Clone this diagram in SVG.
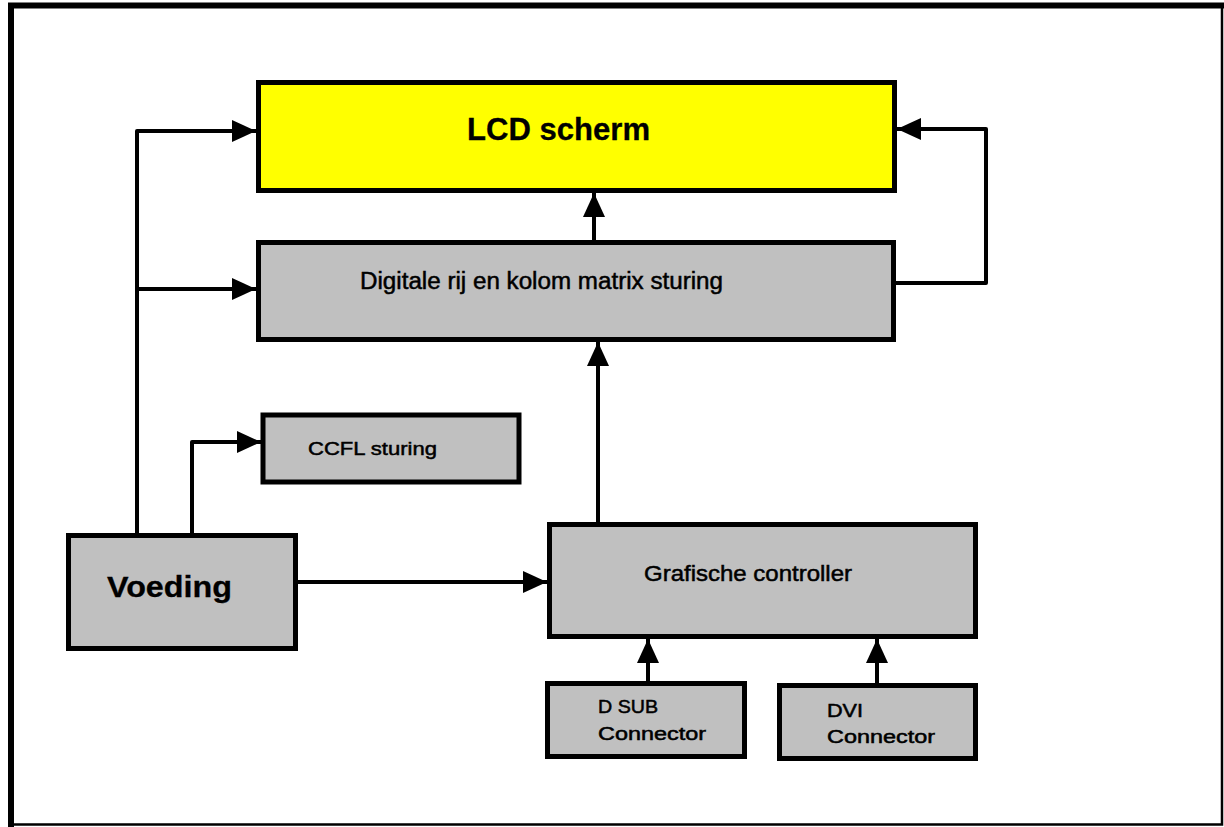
<svg xmlns="http://www.w3.org/2000/svg" width="1224" height="827" viewBox="0 0 1224 827">
<style>
.box{stroke:#000;stroke-width:5;fill:#c0c0c0}
.yel{fill:#ffff00}
.t{font-family:"Liberation Sans",Arial,sans-serif;fill:#000;stroke:#000;stroke-width:0.5}
.b{font-weight:bold;stroke-width:0.3}
.c{fill:none;stroke:#000;stroke-width:4;stroke-linejoin:round}
</style>
<defs>
<marker id="ah" viewBox="0 0 24 22" refX="24" refY="11" markerWidth="24" markerHeight="22" markerUnits="userSpaceOnUse" orient="auto">
<path d="M0,0 L24,11 L0,22 Z" fill="#000"/>
</marker>
</defs>
<rect width="1224" height="827" fill="#fff"/>
<g id="frame">
<path d="M11,827 V5.5 H1224" fill="none" stroke="#000" stroke-width="6"/>
<path d="M11,824.5 H1222 V5" fill="none" stroke="#000" stroke-width="2.5"/>
</g>
<g id="connectors">
<path class="c" d="M137,533 V131 H256" marker-end="url(#ah)"/>
<path class="c" d="M137,289 H256" marker-end="url(#ah)"/>
<path class="c" d="M192,533 V442 H261" marker-end="url(#ah)"/>
<path class="c" d="M298,582 H547" marker-end="url(#ah)"/>
<path class="c" d="M598,522 V342" marker-end="url(#ah)"/>
<path class="c" d="M594,240 V193" marker-end="url(#ah)"/>
<path class="c" d="M896,283 H986 V129 H897" marker-end="url(#ah)"/>
<path class="c" d="M648,681 V639" marker-end="url(#ah)"/>
<path class="c" d="M877,683 V639" marker-end="url(#ah)"/>
</g>
<g id="lcd">
<rect class="box yel" x="258.5" y="82.5" width="636" height="108"/>
<text class="t b" x="467" y="140" font-size="31" textLength="183" lengthAdjust="spacingAndGlyphs">LCD scherm</text>
</g>
<g id="digitale">
<rect class="box" x="258.5" y="242.5" width="635" height="97"/>
<text class="t" x="360" y="289" font-size="23" textLength="363" lengthAdjust="spacingAndGlyphs">Digitale rij en kolom matrix sturing</text>
</g>
<g id="ccfl">
<rect class="box" x="263" y="415" width="256" height="67" stroke-width="4"/>
<text class="t" x="308" y="455" font-size="19" textLength="129" lengthAdjust="spacingAndGlyphs">CCFL sturing</text>
</g>
<g id="voeding">
<rect class="box" x="68.5" y="535.5" width="227" height="113"/>
<text class="t b" x="107" y="597" font-size="30" textLength="125" lengthAdjust="spacingAndGlyphs">Voeding</text>
</g>
<g id="grafische">
<rect class="box" x="549.5" y="524.5" width="426" height="112"/>
<text class="t" x="644" y="581" font-size="22" textLength="208" lengthAdjust="spacingAndGlyphs">Grafische controller</text>
</g>
<g id="dsub">
<rect class="box" x="547.5" y="683.5" width="197" height="73"/>
<text class="t" x="598" y="713" font-size="18" textLength="60" lengthAdjust="spacingAndGlyphs">D SUB</text>
<text class="t" x="598" y="740" font-size="18" textLength="108" lengthAdjust="spacingAndGlyphs">Connector</text>
</g>
<g id="dvi">
<rect class="box" x="779.5" y="685.5" width="196" height="73"/>
<text class="t" x="827" y="717" font-size="18" textLength="36" lengthAdjust="spacingAndGlyphs">DVI</text>
<text class="t" x="827" y="743" font-size="18" textLength="108" lengthAdjust="spacingAndGlyphs">Connector</text>
</g>
</svg>
